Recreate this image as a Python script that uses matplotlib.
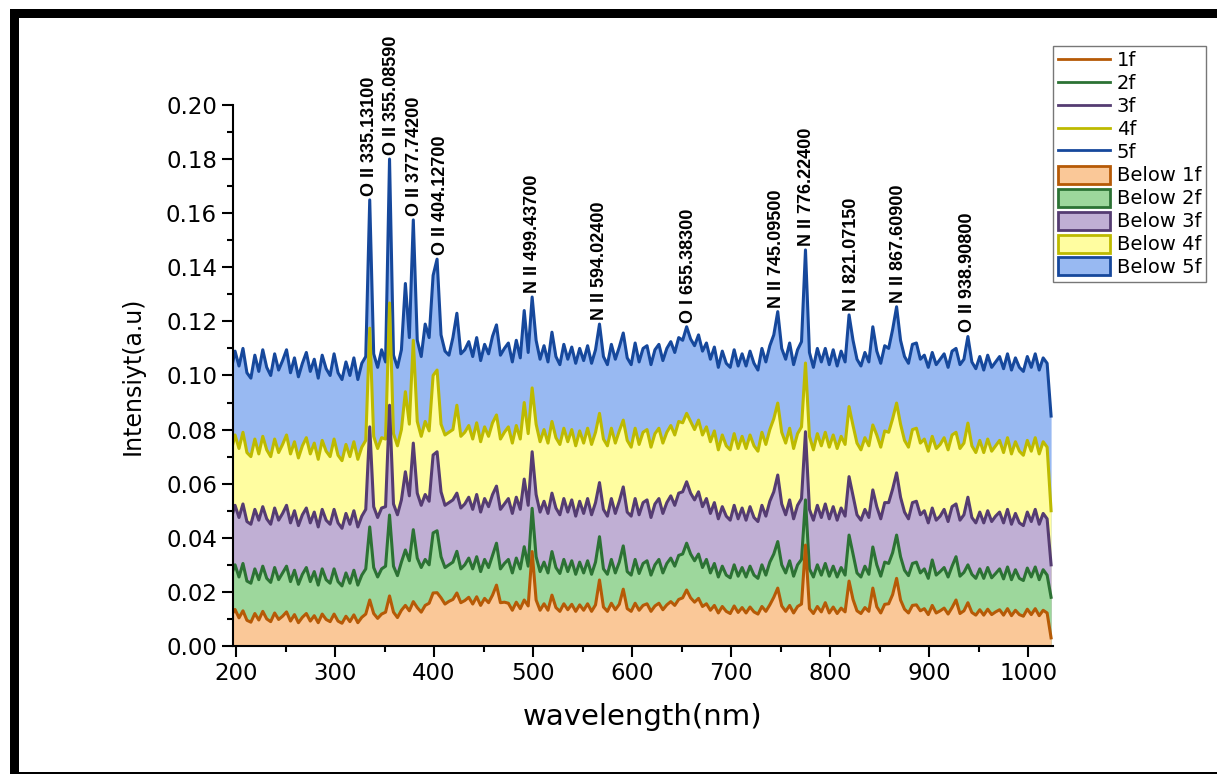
import numpy as np
import matplotlib
matplotlib.use("Agg")
import matplotlib.pyplot as plt
from matplotlib.lines import Line2D
from matplotlib.patches import Patch, Rectangle
from matplotlib.ticker import MultipleLocator, FormatStrFormatter

## SPECTRA ##
# sampled every 4 nm from 195 to 1023 nm, intensities in units of 1e-4 a.u.
wavelength = np.arange(195, 1024, 4)

s1f = [112, 135, 104, 130, 95, 88, 120, 96, 128, 100,
       90, 122, 98, 110, 126, 92, 116, 86, 106, 120,
       92, 112, 86, 118, 98, 90, 118, 92, 84, 110,
       90, 115, 86, 106, 118, 170, 120, 102, 118, 125,
       185, 125, 105, 132, 150, 130, 164, 142, 125, 150,
       158, 196, 197, 178, 155, 165, 172, 196, 160, 168,
       180, 155, 182, 150, 176, 160, 188, 225, 160, 162,
       158, 132, 162, 138, 170, 148, 349, 170, 132, 156,
       132, 188, 142, 128, 156, 134, 154, 128, 152, 132,
       156, 128, 152, 244, 144, 128, 158, 134, 154, 210,
       138, 128, 158, 132, 150, 156, 128, 148, 158, 134,
       152, 164, 150, 172, 178, 207, 178, 162, 176, 146,
       156, 132, 150, 122, 146, 128, 120, 148, 124, 142,
       122, 144, 126, 118, 146, 128, 152, 180, 214, 148,
       128, 150, 122, 146, 155, 373, 138, 120, 146, 126,
       160, 122, 144, 120, 140, 126, 240, 172, 130, 120,
       142, 128, 214, 145, 122, 154, 156, 190, 250, 170,
       136, 122, 150, 152, 130, 138, 116, 150, 122, 130,
       140, 118, 142, 170, 120, 130, 160, 124, 114, 134,
       114, 136, 116, 126, 134, 114, 138, 112, 132, 116,
       110, 136, 116, 138, 112, 132, 122, 30]

s2f = [260, 300, 255, 305, 240, 232, 285, 245, 295, 250,
       235, 290, 245, 270, 295, 238, 280, 228, 265, 290,
       238, 275, 225, 285, 245, 232, 285, 238, 222, 270,
       232, 280, 225, 262, 285, 440, 290, 255, 285, 295,
       484, 295, 260, 310, 355, 315, 430, 325, 290, 320,
       300, 418, 426, 330, 290, 300, 310, 350, 285, 300,
       325, 285, 330, 275, 320, 290, 335, 380, 285, 305,
       320, 270, 325, 285, 367, 295, 509, 330, 275, 310,
       270, 349, 290, 268, 320, 275, 315, 265, 310, 270,
       315, 265, 310, 404, 285, 265, 320, 270, 310, 370,
       275, 262, 320, 268, 305, 315, 262, 300, 320, 270,
       305, 325, 295, 335, 340, 380, 340, 315, 340, 290,
       320, 270, 305, 255, 295, 262, 252, 300, 258, 290,
       255, 295, 262, 250, 300, 262, 310, 340, 386, 300,
       270, 315, 258, 300, 320, 540, 285, 255, 300, 262,
       305, 258, 295, 255, 290, 262, 410, 340, 270, 255,
       295, 265, 366, 300, 258, 310, 305, 345, 410, 330,
       280, 260, 305, 310, 270, 285, 250, 318, 262, 275,
       290, 255, 295, 330, 258, 272, 300, 265, 250, 285,
       250, 290, 252, 268, 285, 248, 292, 245, 282, 250,
       242, 288, 255, 292, 245, 282, 262, 180]

s3f = [470, 520, 475, 525, 460, 450, 505, 465, 515, 470,
       450, 510, 465, 490, 520, 455, 500, 445, 485, 510,
       455, 495, 440, 505, 465, 450, 505, 455, 435, 490,
       450, 500, 440, 480, 505, 810, 515, 475, 510, 515,
       890, 525, 485, 540, 644, 555, 750, 565, 520, 560,
       535, 706, 718, 570, 520, 530, 540, 565, 510, 525,
       550, 505, 560, 495, 545, 515, 560, 591, 505, 525,
       545, 490, 550, 505, 617, 520, 718, 560, 495, 535,
       490, 565, 510, 485, 545, 495, 540, 480, 535, 490,
       545, 485, 530, 604, 505, 480, 545, 490, 535, 588,
       495, 480, 545, 485, 530, 540, 475, 525, 545, 490,
       530, 555, 520, 565, 570, 607, 565, 540, 570, 515,
       545, 490, 530, 470, 515, 480, 465, 520, 470, 510,
       465, 515, 475, 460, 520, 480, 535, 570, 632, 525,
       485, 540, 470, 520, 545, 792, 505, 465, 520, 475,
       525, 470, 515, 465, 510, 480, 626, 555, 485, 465,
       505, 475, 577, 515, 470, 530, 530, 580, 640, 550,
       495, 470, 530, 535, 485, 500, 455, 510, 465, 480,
       505, 460, 515, 525, 465, 485, 550, 475, 455, 495,
       455, 500, 460, 480, 495, 455, 505, 450, 490, 455,
       445, 495, 460, 505, 450, 490, 470, 300]

s4f = [720, 780, 730, 790, 715, 700, 765, 710, 775, 725,
       700, 765, 715, 745, 780, 710, 755, 695, 740, 770,
       710, 750, 690, 760, 720, 700, 765, 705, 685, 745,
       700, 755, 690, 735, 760, 1175, 775, 730, 770, 765,
       1268, 785, 740, 800, 940, 820, 1130, 830, 775, 830,
       795, 1000, 1020, 820, 780, 790, 800, 890, 775, 790,
       815, 765, 825, 755, 810, 775, 825, 854, 765, 790,
       810, 750, 815, 765, 900, 785, 954, 820, 755, 800,
       750, 830, 770, 745, 805, 755, 800, 740, 795, 750,
       805, 745, 790, 860, 765, 740, 805, 750, 795, 835,
       760, 735, 805, 745, 790, 800, 735, 785, 805, 750,
       790, 815, 780, 830, 825, 860, 830, 800, 835, 780,
       810, 755, 795, 725, 780, 740, 725, 785, 730, 775,
       730, 780, 740, 720, 790, 745, 800, 840, 898, 790,
       750, 805, 730, 785, 810, 1046, 775, 725, 785, 740,
       790, 735, 780, 730, 775, 745, 885, 815, 750, 725,
       770, 740, 817, 780, 735, 795, 790, 840, 898, 820,
       760, 735, 800, 805, 750, 765, 720, 775, 730, 745,
       770, 725, 780, 790, 730, 750, 824, 740, 715, 760,
       715, 765, 720, 740, 760, 715, 770, 710, 755, 720,
       705, 760, 720, 770, 710, 755, 735, 500]

s5f = [1020, 1090, 1035, 1100, 1010, 990, 1075, 1015, 1095, 1030,
       1000, 1080, 1020, 1055, 1095, 1010, 1065, 995, 1045, 1085,
       1015, 1060, 990, 1075, 1025, 1000, 1080, 1010, 985, 1050,
       1000, 1065, 985, 1045, 1070, 1649, 1080, 1030, 1095, 1050,
       1800, 1075, 1030, 1095, 1340, 1140, 1575, 1130, 1070, 1190,
       1140, 1370, 1430, 1150, 1090, 1075, 1140, 1230, 1080, 1095,
       1125, 1070, 1140, 1055, 1115, 1080, 1145, 1187, 1075, 1100,
       1120, 1050, 1130, 1065, 1240, 1085, 1290, 1130, 1060, 1110,
       1050, 1160, 1070, 1040, 1115, 1060, 1105, 1045, 1100, 1055,
       1110, 1045, 1095, 1190, 1070, 1040, 1115, 1060, 1105, 1157,
       1065, 1040, 1120, 1050, 1100, 1110, 1040, 1095, 1115, 1055,
       1100, 1125, 1085, 1140, 1130, 1180, 1135, 1110, 1150, 1090,
       1120, 1060, 1105, 1030, 1090, 1045, 1030, 1095, 1035, 1080,
       1035, 1090, 1045, 1020, 1100, 1050, 1110, 1150, 1236, 1100,
       1060, 1120, 1040, 1095, 1125, 1464, 1085, 1030, 1100, 1050,
       1100, 1040, 1095, 1035, 1090, 1050, 1224, 1130, 1060, 1035,
       1085, 1050, 1180, 1090, 1045, 1110, 1100, 1170, 1254, 1130,
       1070, 1045, 1115, 1120, 1060, 1075, 1030, 1085, 1040, 1060,
       1080, 1030, 1090, 1100, 1040, 1060, 1144, 1050, 1025, 1070,
       1020, 1075, 1030, 1050, 1070, 1025, 1080, 1020, 1065, 1030,
       1015, 1070, 1030, 1080, 1020, 1065, 1045, 850]

series_names = ['1f', '2f', '3f', '4f', '5f']
line_colors = ['#B65A06', '#2C7234', '#553C72', '#BDBA00', '#16489C']
fill_colors = ['#FAC898', '#9DD79C', '#C0AFD4', '#FFFDA0', '#98B9F2']

# emission lines: label position (nm) and identification
line_pos = [335, 357, 380, 406, 499, 567, 657, 746, 776, 821, 869, 939]
line_ion = ['O II', 'O II', 'O II', 'O II', 'N II', 'N II', 'O I', 'N II',
            'N II', 'N I', 'N II', 'O II']
line_nm = [335.131, 355.0859, 377.742, 404.127, 499.437, 594.024, 655.383,
           745.095, 776.224, 821.0715, 867.609, 938.908]

spectra = [np.array(s) * 1e-4 for s in (s1f, s2f, s3f, s4f, s5f)]

fig = plt.figure(figsize=(12.17, 7.74), dpi=100)
ax = fig.add_axes([0.1915, 0.1654, 0.6738, 0.699])

# top series first so the lower fills sit on top of it
for name, y, lc, fc in reversed(list(zip(series_names, spectra, line_colors, fill_colors))):
    ax.fill_between(wavelength, 0, y, color=fc, lw=0)
    ax.plot(wavelength, y, color=lc, lw=2.2)

top = spectra[-1]
for pos, ion, nm in zip(line_pos, line_ion, line_nm):
    near = np.abs(wavelength - pos) <= 4
    ax.text(pos, top[near].max() + 0.0015, '%s %.5f' % (ion, nm), rotation=90,
            ha='center', va='bottom', fontsize=13, fontweight='bold',
            family='Liberation Sans', clip_on=False)

ax.set_xlim(197, 1025)
ax.set_ylim(0, 0.2)
ax.xaxis.set_major_locator(MultipleLocator(100))
ax.xaxis.set_minor_locator(MultipleLocator(50))
ax.yaxis.set_major_locator(MultipleLocator(0.02))
ax.yaxis.set_minor_locator(MultipleLocator(0.01))
ax.yaxis.set_major_formatter(FormatStrFormatter('%.2f'))
ax.tick_params(which='major', direction='out', length=8, width=1.5, labelsize=16.5)
ax.tick_params(which='minor', direction='out', length=4.5, width=1.5)
ax.spines['top'].set_visible(False)
ax.spines['right'].set_visible(False)
ax.spines['left'].set_linewidth(1.5)
ax.spines['bottom'].set_linewidth(1.5)
ax.set_xlabel('wavelength(nm)', fontsize=21, labelpad=13)
ax.set_ylabel('Intensiyt(a.u)', fontsize=17, labelpad=15)

handles = [Line2D([], [], color=c, lw=2) for c in line_colors]
handles += [Patch(facecolor=f, edgecolor=c, lw=2) for f, c in zip(fill_colors, line_colors)]
labels = series_names + ['Below ' + n for n in series_names]
leg = fig.legend(handles, labels, loc='upper left', bbox_to_anchor=(0.865, 0.9406),
                 fontsize=14, frameon=True, fancybox=False, borderaxespad=0,
                 handlelength=2.7, handleheight=1.05, handletextpad=0.35,
                 labelspacing=0.17, borderpad=0.25)
leg.get_frame().set_edgecolor('#555555')
leg.get_frame().set_linewidth(1.0)

# page frame
fig.patches.append(Rectangle((10/1217, 0), 9/1217, 1 - 9/774, transform=fig.transFigure,
                             color='black', lw=0))
fig.patches.append(Rectangle((10/1217, 1 - 18/774), 1, 9/774, transform=fig.transFigure,
                             color='black', lw=0))
fig.patches.append(Rectangle((10/1217, 0), 1, 2.5/774, transform=fig.transFigure,
                             color='black', lw=0))

fig.savefig('out.png', dpi=100)
